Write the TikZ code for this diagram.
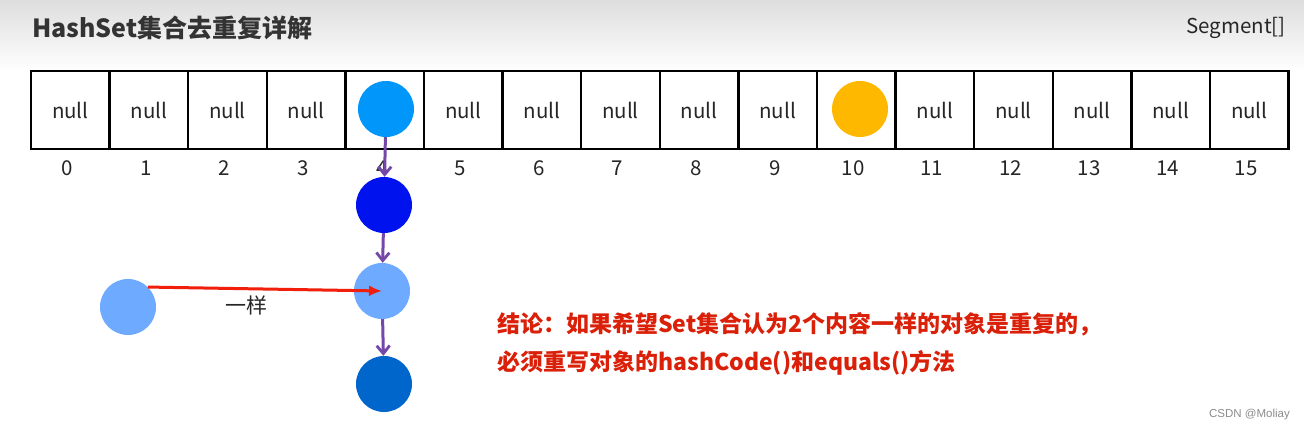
\documentclass[tikz,border=0pt]{standalone}
\usepackage{fontspec}
\setmainfont{Noto Sans CJK SC}
\newfontfamily\wmfont{Liberation Sans}
\usetikzlibrary{arrows.meta}
\definecolor{purp}{RGB}{115,72,168}
\definecolor{redarr}{RGB}{240,30,10}
\definecolor{concl}{RGB}{218,32,8}
\definecolor{titlec}{RGB}{51,51,51}
\definecolor{cA}{RGB}{0,150,250}
\definecolor{cB}{RGB}{0,18,238}
\definecolor{cC}{RGB}{110,170,255}
\definecolor{cD}{RGB}{0,102,204}
\definecolor{cOr}{RGB}{255,184,0}
\tikzset{
  cell/.style={draw=black, line width=2.5pt, fill=white, minimum width=78.6pt, minimum height=78pt, inner sep=0pt, font=\fontsize{20.5}{24}\selectfont, text=black!85},
  idx/.style={inner sep=0pt, font=\fontsize{20.5}{24}\selectfont, text=black!85},
  ball/.style={circle, minimum size=56pt, inner sep=0pt, draw=none},
  link/.style={draw=purp, line width=3pt, -{Straight Barb[length=8pt,width=13pt,line width=2.8pt]}},
  same/.style={draw=redarr, line width=3pt, -{Latex[length=13pt,width=11pt]}},
  conclusion/.style={anchor=west, inner sep=0pt, text=concl, font=\fontsize{23}{27}\selectfont\bfseries}
}
\begin{document}
\begin{tikzpicture}[x=1pt,y=-1pt]
\useasboundingbox (0,0) rectangle (1304,431);
\fill[white] (0,0) rectangle (1304,431);
\shade[top color=black!13, bottom color=white] (0,0) rectangle (1304,72);
% title
\node[anchor=west, inner sep=0pt, text=titlec, font=\fontsize{25}{29}\selectfont\bfseries] (title) at (32,28) {HashSet集合去重复详解};
\node[anchor=east, inner sep=0pt, text=black!85, font=\fontsize{20.5}{24}\selectfont] (seg) at (1286,28) {Segment[]};
% array cells
\foreach \i in {0,...,15}{
  \ifnum\i=4
    \node[cell] (c\i) at ({31+78.6*(\i+0.5)},110) {};
  \else\ifnum\i=10
    \node[cell] (c\i) at ({31+78.6*(\i+0.5)},110) {};
  \else
    \node[cell] (c\i) at ({31+78.6*(\i+0.5)},110) {null};
  \fi\fi
  \node[idx] (n\i) at ({28+78.6*(\i+0.5)},168) {\i};
}
% circles
\node[ball, fill=cA] (a) at (386,109) {};
\node[ball, fill=cOr] (o) at (860,109) {};
\node[ball, fill=cB] (b) at (384,205) {};
\node[ball, fill=cC] (c) at (382,291) {};
\node[ball, fill=cD] (d) at (384,384) {};
\node[ball, fill=cC] (e) at (128,307) {};
% links
\draw[link] (a) -- (b);
\draw[link] (b) -- (c);
\draw[link] (c) -- (d);
\draw[same] (e.45) -- (c.center);
\node[inner sep=0pt, font=\fontsize{21}{25}\selectfont, text=black!85] (lbl) at (246,305) {一样};
% conclusion
\node[conclusion] (l1) at (497,324) {结论：如果希望Set集合认为2个内容一样的对象是重复的，};
\node[conclusion] (l2) at (497,363) {必须重写对象的hashCode()和equals()方法};
% watermark
\node[anchor=east, inner sep=0pt, text=black!45, font=\wmfont\fontsize{11.5}{14}\selectfont] (wm) at (1290,415) {CSDN @Moliay};
\end{tikzpicture}
\end{document}
